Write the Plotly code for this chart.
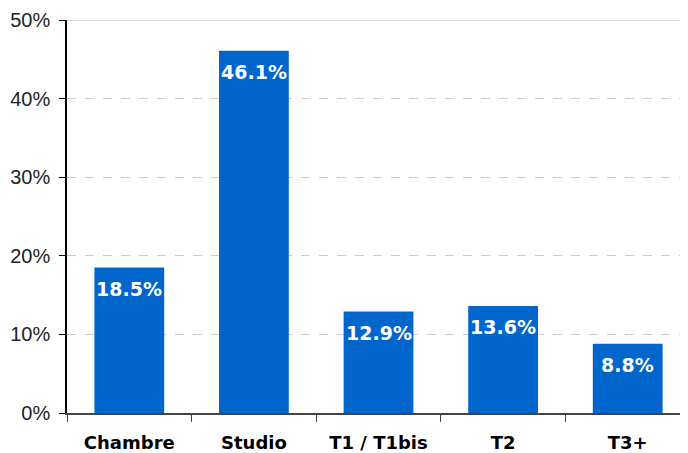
import plotly.graph_objects as go

categories = ["Chambre", "Studio", "T1 / T1bis", "T2", "T3+"]
values = [18.5, 46.1, 12.9, 13.6, 8.8]
labels = ["18.5%", "46.1%", "12.9%", "13.6%", "8.8%"]
y_ticks = [0, 10, 20, 30, 40, 50]
y_tick_text = ["0%", "10%", "20%", "30%", "40%", "50%"]

fig = go.Figure()
fig.add_trace(go.Bar(
    x=categories, y=values,
    marker=dict(color="#0066CC", line=dict(width=0)),
))
for c, v, t in zip(categories, values, labels):
    fig.add_annotation(x=c, y=v, text=t, showarrow=False, yanchor="top", yshift=-8,
                       font=dict(family="DejaVu Sans", size=19, color="white", weight="bold"))

fig.update_layout(
    width=688, height=453,
    margin=dict(l=59, r=6, t=12, b=48, autoexpand=False),
    plot_bgcolor="white", paper_bgcolor="white",
    bargap=0.44, showlegend=False,
)
fig.update_xaxes(
    automargin=False,
    showline=True, linecolor="#444", linewidth=1.5,
    ticks="outside", tickson="boundaries", ticklen=7, tickcolor="#444", tickwidth=1,
    tickfont=dict(family="DejaVu Sans", size=18, color="black", weight="bold"),
    ticklabelstandoff=13, showgrid=False,
)
fig.update_yaxes(
    automargin=False,
    range=[0, 50], tickvals=y_ticks, ticktext=y_tick_text,
    showline=True, linecolor="black", linewidth=1.5,
    ticks="outside", ticklen=6, tickcolor="black",
    tickfont=dict(family="Liberation Sans", size=20, color="#222"),
    ticklabelstandoff=5,
    showgrid=True, gridcolor="#cccccc", griddash="dash", gridwidth=1,
    zeroline=False,
)
fig.add_shape(type="line", xref="paper", yref="y", x0=0, x1=1, y0=50, y1=50,
              line=dict(color="#cccccc", width=1.5), layer="below")

fig.write_html("out.html")
